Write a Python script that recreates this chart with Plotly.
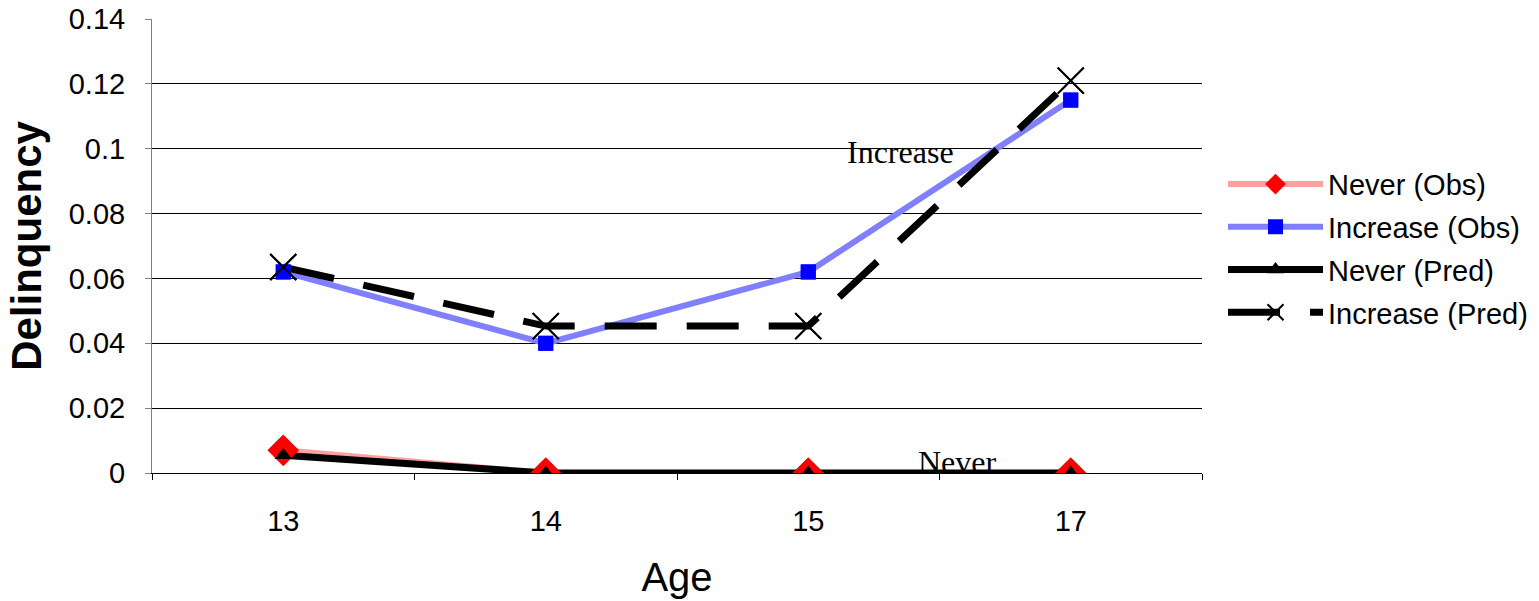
import plotly.graph_objects as go

# Delinquency by age, observed vs. predicted for two trajectory groups
ages = ["13", "14", "15", "17"]
never_obs = [0.007, 0.0, 0.0, 0.0]
increase_obs = [0.062, 0.040, 0.062, 0.115]
never_pred = [0.0055, 0.0, 0.0, 0.0]
increase_pred = [0.0635, 0.0453, 0.0453, 0.121]
y_ticks = [0, 0.02, 0.04, 0.06, 0.08, 0.1, 0.12, 0.14]
y_tick_text = ["0", "0.02", "0.04", "0.06", "0.08", "0.1", "0.12", "0.14"]

series = [
    dict(name="Never (Obs)", y=never_obs, group="a",
         line=dict(color="#ffa0a0", width=6),
         marker=dict(symbol="diamond", size=24, color="#ff0000")),
    dict(name="Increase (Obs)", y=increase_obs, group="b",
         line=dict(color="#8080ff", width=6),
         marker=dict(symbol="square", size=15, color="#0000ff")),
    dict(name="Never (Pred)", y=never_pred, group="c",
         line=dict(color="#000000", width=7),
         marker=dict(symbol="triangle-up", size=15, color="#000000")),
    dict(name="Increase (Pred)", y=increase_pred, group="d",
         line=dict(color="#000000", width=7, dash="52px,30px"),
         marker=dict(symbol="x-thin-open", size=26, color="#000000",
                     line=dict(color="#000000", width=2))),
]

fig = go.Figure()

# Lines (with legend entries) first ...
for s in series:
    fig.add_trace(go.Scatter(
        x=ages, y=s["y"], name=s["name"], mode="lines+markers",
        legendgroup=s["group"], line=s["line"], marker=s["marker"],
    ))
# ... then markers on top of every line
for s in series:
    fig.add_trace(go.Scatter(
        x=ages, y=s["y"], name=s["name"], mode="markers",
        legendgroup=s["group"], showlegend=False, marker=s["marker"],
        hoverinfo="skip",
    ))

fig.add_annotation(x=2.35, y=0.1, text="Increase", showarrow=False,
                   font=dict(family="Liberation Serif", size=32, color="#000000"),
                   xanchor="center", yanchor="middle", yshift=-3)
fig.add_annotation(x=2.57, y=0.0, text="Never", showarrow=False,
                   font=dict(family="Liberation Serif", size=32, color="#000000"),
                   xanchor="center", yanchor="middle", yshift=11)

fig.update_layout(
    width=1539, height=601,
    margin=dict(l=152, r=337, t=19, b=128, autoexpand=False),
    paper_bgcolor="white", plot_bgcolor="white",
    font=dict(family="Liberation Sans, Arial", color="#000000"),
    showlegend=True,
    legend=dict(
        x=1.02, xanchor="left", y=0.495, yanchor="middle",
        font=dict(size=29, family="Liberation Sans, Arial"),
        itemwidth=95, bgcolor="rgba(0,0,0,0)", tracegroupgap=2,
    ),
    xaxis=dict(
        type="category", categoryorder="array", categoryarray=ages,
        range=[-0.5, 3.5], tickson="boundaries",
        ticks="outside", ticklen=6, tickcolor="#000000",
        showline=True, linecolor="#000000", linewidth=1,
        showgrid=False, zeroline=False,
        tickfont=dict(size=29), ticklabelstandoff=22,
        title=dict(text="Age", font=dict(size=40), standoff=27),
    ),
    yaxis=dict(
        range=[0, 0.14], tickvals=y_ticks, ticktext=y_tick_text,
        ticks="outside", ticklen=6, tickcolor="#808080",
        showline=True, linecolor="#808080", linewidth=1,
        showgrid=True, gridcolor="#000000", gridwidth=1,
        zeroline=False,
        tickfont=dict(size=29), ticklabelstandoff=14,
        title=dict(text="<b>Delinquency</b>", font=dict(size=42), standoff=14),
    ),
)

fig.write_html("out.html")
